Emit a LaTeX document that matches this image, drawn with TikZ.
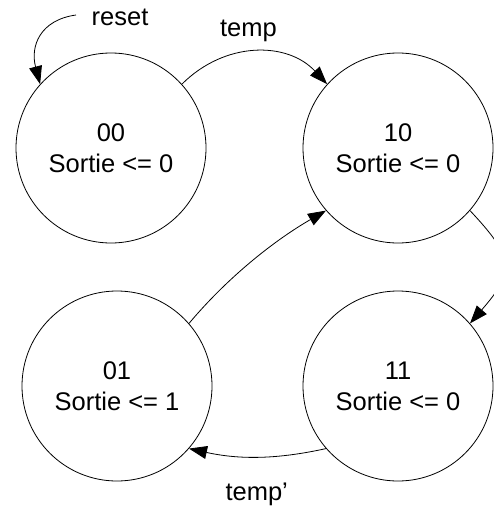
\documentclass[tikz,border=0pt]{standalone}
\usepackage{fontspec}
\setmainfont{Liberation Sans}
\usetikzlibrary{arrows.meta}
\begin{document}
\begin{tikzpicture}[x=1pt,y=-1pt,
  state/.style={circle, draw, line width=0.8pt, minimum size=190pt, inner sep=0pt, align=center, font=\fontsize{25.5}{31}\selectfont},
  edge/.style={draw, line width=0.8pt, -{Triangle[length=18pt,width=13pt]}},
  lbl/.style={font=\fontsize{25.5}{31}\selectfont, anchor=base, inner sep=0pt}]
\useasboundingbox (0,0) rectangle (494,508);
\node[state] (s00) at (111,148) {00\\Sortie <= 0};
\node[state] (s10) at (398,148) {10\\Sortie <= 0};
\node[state] (s01) at (117,386) {01\\Sortie <= 1};
\node[state] (s11) at (398,386) {11\\Sortie <= 0};
\coordinate (rs) at (76,15);
\draw[edge] (rs) .. controls +(-36,5) and +(-10,-38) .. (s00.138);
\draw[edge] (s00.42) .. controls +(43,-43) and +(-40,-43) .. (s10.138);
\draw[edge] (s01.41) .. controls +(38.6,-46) and +(-52,30) .. (s10.221);
\draw[edge] (s10.-41) .. controls +(45,48) and +(45,-52) .. (s11.41);
\draw[edge] (s11.221) .. controls +(-50,11) and +(50,11) .. (s01.-41);
\node[lbl] (lreset) at (120,26) {reset};
\node[lbl] (ltemp) at (248.5,36.7) {temp};
\node[lbl] (ltempb) at (256.7,500.7) {temp’};
\end{tikzpicture}
\end{document}
